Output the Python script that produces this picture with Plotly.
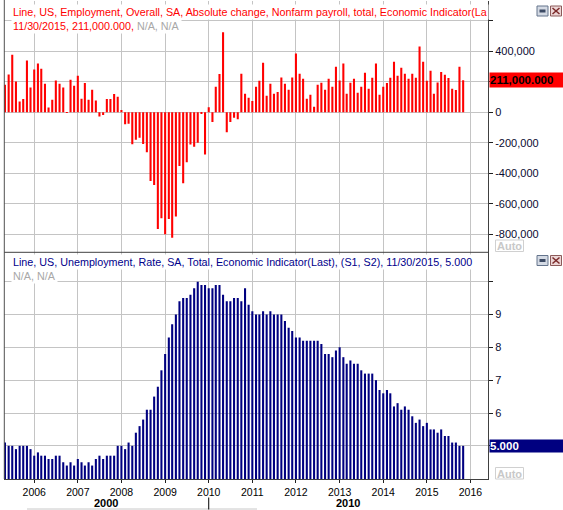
import pandas as pd
import plotly.graph_objects as go

# monthly observations, May 2005 .. Nov 2015
months = pd.date_range("2005-05-01", "2015-11-01", freq="MS")

# nonfarm payroll change, thousands
payroll_k = [
    180, 248, 378, 202, 71, 88, 340, 162,
    280, 320, 286, 187, 31, 83, 208, 187, 162, 2, 214, 174,
    240, 89, 193, 82, 148, 77, -28, -17, 88, 88, 120, 102,
    16, -79, -75, -210, -180, -167, -207, -262, -451, -476, -765, -695,
    -800, -700, -823, -683, -352, -465, -327, -211, -225, -200, -5, -277,
    33, -64, 168, 252, 525, -130, -64, -35, -45, 253, 121, 96,
    75, 167, 207, 325, 108, 187, 121, 134, 228, 188, 148, 228,
    385, 253, 220, 89, 115, 36, 180, 194, 148, 220, 167, 299,
    208, 320, 121, 194, 220, 128, 167, 260, 154, 226, 320, 115,
    167, 193, 226, 332, 240, 292, 253, 220, 253, 226, 431, 332,
    207, 273, 121, 195, 264, 246, 225, 154, 147, 298, 211,
]

# unemployment rate, %
unemp = [
    5.1, 5.0, 5.0, 4.9, 5.0, 5.0, 5.0, 4.9,
    4.7, 4.8, 4.7, 4.7, 4.6, 4.6, 4.7, 4.7, 4.5, 4.4, 4.5, 4.4,
    4.6, 4.5, 4.4, 4.5, 4.4, 4.6, 4.7, 4.6, 4.7, 4.7, 4.7, 5.0,
    5.0, 4.9, 5.1, 5.0, 5.4, 5.6, 5.8, 6.1, 6.1, 6.5, 6.8, 7.3,
    7.8, 8.3, 8.7, 9.0, 9.4, 9.5, 9.5, 9.6, 9.8, 10.0, 9.9, 9.9,
    9.8, 9.8, 9.9, 9.9, 9.6, 9.4, 9.4, 9.5, 9.5, 9.4, 9.8, 9.3,
    9.1, 9.0, 9.0, 9.1, 9.0, 9.1, 9.0, 9.0, 9.0, 8.8, 8.6, 8.5,
    8.3, 8.3, 8.2, 8.2, 8.2, 8.2, 8.2, 8.1, 7.8, 7.8, 7.7, 7.9,
    8.0, 7.7, 7.5, 7.6, 7.5, 7.5, 7.3, 7.2, 7.2, 7.2, 7.0, 6.7,
    6.6, 6.7, 6.6, 6.2, 6.3, 6.1, 6.2, 6.1, 5.9, 5.7, 5.8, 5.6,
    5.7, 5.5, 5.5, 5.4, 5.5, 5.3, 5.3, 5.1, 5.1, 5.0, 5.0,
]

payroll_ticks = [-800000, -600000, -400000, -200000, 0, 200000, 400000, 600000]
payroll_ticktext = ["-800,000", "-600,000", "-400,000", "-200,000", "0", "", "400,000", ""]
unemp_ticks = [5, 6, 7, 8, 9, 10]
unemp_ticktext = ["", "6", "7", "8", "9", ""]
decades = ["2000", "2010"]

W, H = 563, 510
ML, MR, MT, MB = 4, 75, 1, 31


def px2x(p):
    return (p - ML) / (W - ML - MR)


def px2y(p):
    return (H - MB - p) / (H - MT - MB)


split = px2y(252.3)
payroll = [v * 1000 for v in payroll_k]
last_date = "11/30/2015"

RED = "#ff0000"
NAVY = "#000080"
GRID = "#c4c4c4"
FONT = "Liberation Sans"

fig = go.Figure()
fig.add_trace(go.Bar(x=months, y=payroll, marker=dict(color=RED, line=dict(width=0)),
                     xaxis="x", yaxis="y", hoverinfo="skip"))
fig.add_trace(go.Bar(x=months, y=unemp, marker=dict(color=NAVY, line=dict(width=0)),
                     xaxis="x2", yaxis="y2", hoverinfo="skip"))

xrange = ["2005-04-23", "2016-05-27"]
xcommon = dict(type="date", range=xrange, tick0="2006-01-01", dtick="M12",
               showgrid=True, gridcolor=GRID, gridwidth=1, zeroline=False)
ycommon = dict(side="right", showgrid=True, gridcolor=GRID, gridwidth=1, zeroline=False,
               showline=True, linecolor="#404040", linewidth=1,
               ticks="outside", ticklen=4, tickcolor="#202020",
               tickfont=dict(family=FONT, size=11, color="#0a0a30"))

fig.update_layout(
    width=W, height=H,
    margin=dict(l=ML, r=MR, t=MT, b=MB),
    paper_bgcolor="white", plot_bgcolor="white",
    showlegend=False, bargap=0.38,
    font=dict(family=FONT, size=11),
    xaxis=dict(xcommon, anchor="y", showticklabels=False, ticks=""),
    xaxis2=dict(xcommon, anchor="y2", matches="x", tickformat="%Y",
                showline=True, linecolor="#404040", linewidth=1,
                ticks="outside", ticklen=3, tickcolor="#202020",
                tickfont=dict(family=FONT, size=10.5, color="black")),
    yaxis=dict(ycommon, domain=[split, 1], range=[-918000, 730000],
               tickvals=payroll_ticks, ticktext=payroll_ticktext),
    yaxis2=dict(ycommon, domain=[0, split], range=[3.99, 10.894],
                tickvals=unemp_ticks, ticktext=unemp_ticktext),
)

shapes = [
    # left border and separator between panes
    dict(type="line", xref="paper", yref="paper", x0=px2x(4.3), x1=px2x(4.3),
         y0=0, y1=px2y(0), line=dict(color="#505050", width=1)),
    dict(type="line", xref="paper", yref="paper", x0=px2x(4.3), x1=1,
         y0=split, y1=split, line=dict(color="#404040", width=1)),
    # decade navigator under the axis
    dict(type="line", xref="paper", yref="paper", x0=px2x(27), x1=px2x(257),
         y0=px2y(509), y1=px2y(509), line=dict(color="#c8c8c8", width=1)),
    dict(type="line", xref="x2", yref="paper", x0="2010-01-01", x1="2010-01-01",
         y0=px2y(497.5), y1=px2y(509.5), line=dict(color="black", width=1)),
]

# pane buttons (restore / close) and "Auto" scale buttons
for top, auto_top in ((6, 240), (255.5, 467.5)):
    shapes += [
        dict(type="rect", xref="paper", yref="paper", x0=px2x(537), x1=px2x(548),
             y0=px2y(top + 10), y1=px2y(top), fillcolor="#d4dae4",
             line=dict(color="#64748c", width=1)),
        dict(type="rect", xref="paper", yref="paper", x0=px2x(539.5), x1=px2x(545.5),
             y0=px2y(top + 6.5), y1=px2y(top + 3.5), fillcolor="#3c4a64",
             line=dict(color="#3c4a64", width=0)),
        dict(type="rect", xref="paper", yref="paper", x0=px2x(550.5), x1=px2x(561.5),
             y0=px2y(top + 10), y1=px2y(top), fillcolor="#ecd6d6",
             line=dict(color="#8c5a5a", width=1)),
        dict(type="line", xref="paper", yref="paper", x0=px2x(552.5), x1=px2x(559.5),
             y0=px2y(top + 8), y1=px2y(top + 2), line=dict(color="#7a2a2a", width=1.5)),
        dict(type="line", xref="paper", yref="paper", x0=px2x(552.5), x1=px2x(559.5),
             y0=px2y(top + 2), y1=px2y(top + 8), line=dict(color="#7a2a2a", width=1.5)),
        dict(type="rect", xref="paper", yref="paper", x0=px2x(495.5), x1=px2x(523.5),
             y0=px2y(auto_top + 11.5), y1=px2y(auto_top), fillcolor="white",
             line=dict(color="#d0d0d0", width=1)),
    ]

fig.update_layout(shapes=shapes)

annotations = []
title_font = dict(family=FONT, size=10.75)
annotations.append(dict(
    xref="paper", yref="paper", x=px2x(11), y=px2y(12.5), xanchor="left", yanchor="middle",
    text="Line, US, Employment, Overall, SA, Absolute change, Nonfarm payroll, total, Economic Indicator(La",
    font=dict(title_font, color=RED), showarrow=False, bgcolor="white", borderpad=1))
annotations.append(dict(
    xref="paper", yref="paper", x=px2x(11), y=px2y(25.8), xanchor="left", yanchor="middle",
    text=f"{last_date}, {payroll[-1]:,.3f}, <span style='color:#a8a8a8'>N/A, N/A</span>",
    font=dict(title_font, color=RED), showarrow=False, bgcolor="white", borderpad=1))
annotations.append(dict(
    xref="paper", yref="paper", x=px2x(11), y=px2y(262.3), xanchor="left", yanchor="middle",
    text=f"Line, US, Unemployment, Rate, SA, Total, Economic Indicator(Last), (S1, S2), {last_date}, {unemp[-1]:.3f}",
    font=dict(title_font, color="#00008b"), showarrow=False, bgcolor="white", borderpad=1))
annotations.append(dict(
    xref="paper", yref="paper", x=px2x(11), y=px2y(276), xanchor="left", yanchor="middle",
    text="N/A, N/A", font=dict(title_font, color="#a8a8a8"),
    showarrow=False, bgcolor="white", borderpad=1))

# last-value tags on the price scale
annotations.append(dict(
    xref="paper", yref="y", x=px2x(488.5), y=payroll[-1], xanchor="left", yanchor="middle",
    text=f"<b>{payroll[-1]:,.3f}</b>", font=dict(family=FONT, size=11.5, color="black"),
    showarrow=False, bgcolor=RED, width=74.5, align="left", borderpad=0, height=14))
annotations.append(dict(
    xref="paper", yref="y2", x=px2x(488.5), y=unemp[-1], xanchor="left", yanchor="middle",
    text=f"<b>{unemp[-1]:.3f}</b>", font=dict(family=FONT, size=11.5, color="white"),
    showarrow=False, bgcolor=NAVY, width=74.5, align="left", borderpad=0, height=12))

for auto_top in (240, 467.5):
    annotations.append(dict(
        xref="paper", yref="paper", x=px2x(509.5), y=px2y(auto_top + 6),
        xanchor="center", yanchor="middle", text="<b>Auto</b>",
        font=dict(family=FONT, size=11, color="#c8c8c8"), showarrow=False))

# decade labels
for label, xp in zip(decades, (106, 347.7)):
    annotations.append(dict(xref="paper", yref="paper", x=px2x(xp), y=px2y(503.3),
                            xanchor="center", yanchor="middle", text=f"<b>{label}</b>",
                            font=dict(family=FONT, size=11, color="black"), showarrow=False))

fig.update_layout(annotations=annotations)

# the page is photographed edge to edge, so drop the default body margin
fig.write_html("out.html", config={"displayModeBar": False},
               post_script="document.body.style.margin='0';")
